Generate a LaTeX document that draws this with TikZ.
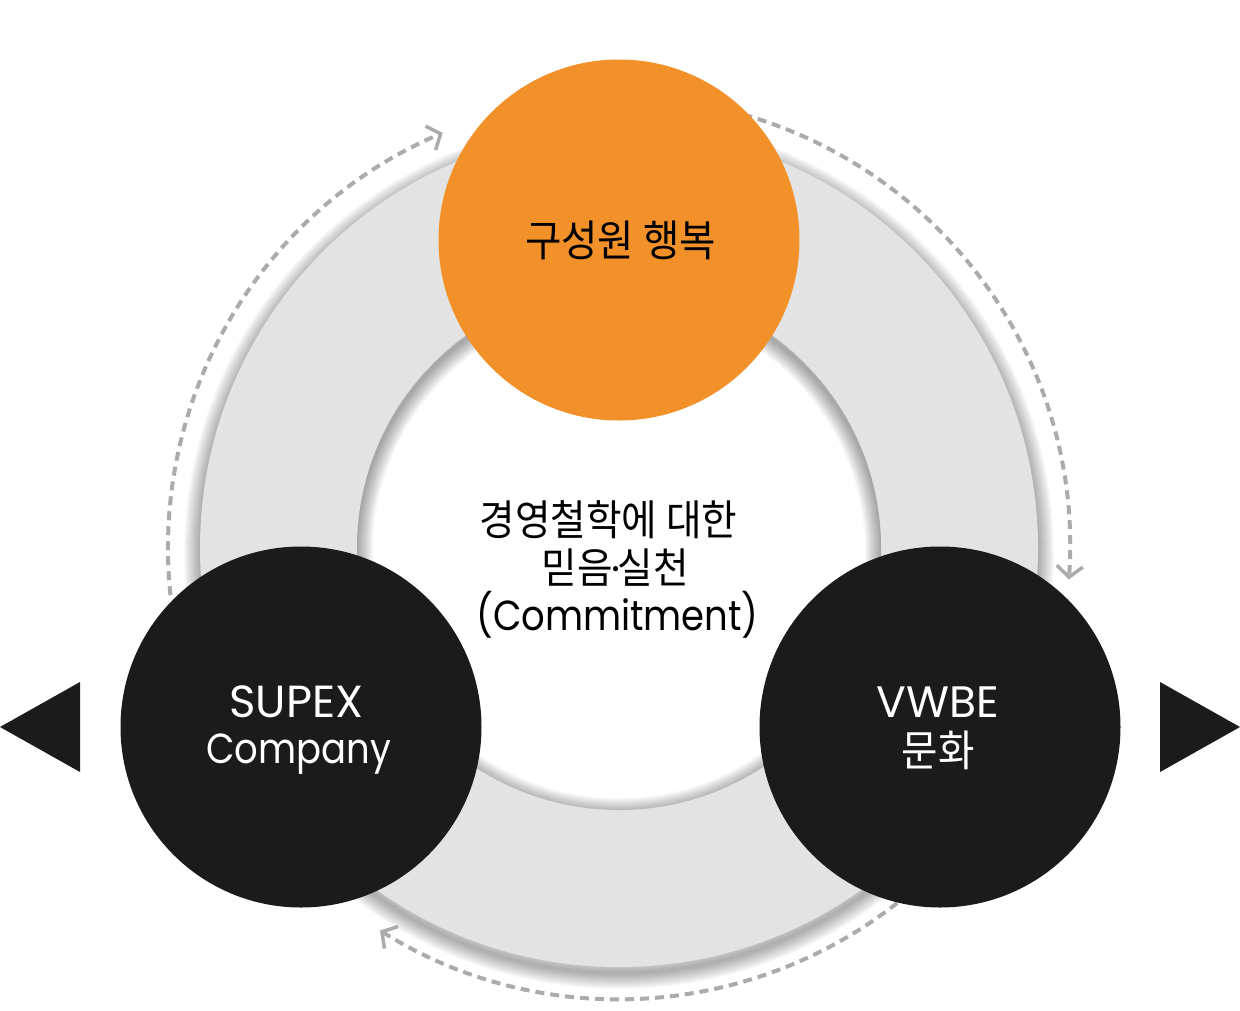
\documentclass[tikz,border=0pt]{standalone}
\usepackage{fontspec}
\setmainfont{Noto Sans CJK KR}[FakeStretch=0.92]
\newfontfamily\lat{Poppins}
\newfontfamily\latn{Poppins}[FakeStretch=0.88]
\usetikzlibrary{arrows.meta,calc}
\definecolor{sorange}{HTML}{F29129}
\definecolor{sdark}{HTML}{1B1B1B}
\definecolor{sring}{HTML}{E3E3E3}
\definecolor{sdash}{HTML}{ABABAB}
\tikzset{
  flow/.style={draw=sdash, line width=4pt, dash pattern=on 9pt off 6pt,
    -{Straight Barb[length=11pt,width=26pt,line width=3.5pt]}},
  bigdot/.style={circle, minimum size=361pt, inner sep=0pt},
  krtext/.style={font=\fontsize{43}{48}\selectfont, inner sep=0pt},
  latext/.style={font=\lat\fontsize{43}{48}\selectfont, inner sep=0pt},
  latnar/.style={font=\latn\fontsize{42}{48}\selectfont, inner sep=0pt},
}
\begin{document}
\begin{tikzpicture}[x=1pt,y=-1pt]
\useasboundingbox (0,0) rectangle (1240,1010);
\coordinate (c) at (619,548);
% outer drop shadow
\foreach \k in {1,...,16}
  \draw[black, opacity=0.025, line width=2*\k pt] ($(c)+(0,6)$) circle[radius=419];
% ring
\fill[sring] (c) circle[radius=419];
\fill[white] (c) circle[radius=262];
% inner shadow
\begin{scope}
  \clip (c) circle[radius=262];
  \foreach \k in {1,...,16}
    \draw[black, opacity=0.024, line width=2*\k pt] ($(c)+(0,4)$) circle[radius=262];
\end{scope}
% dashed cycle arrows
\coordinate (s1) at ($(c)+(-186:451)$);
\coordinate (s2) at ($(c)+(-74:451)$);
\coordinate (s3) at ($(c)+(50:451)$);
\draw[flow] (s1) arc[start angle=-186, end angle=-113, radius=451];
\draw[flow] (s2) arc[start angle=-74, end angle=4, radius=451];
\draw[flow] (s3) arc[start angle=50, end angle=122, radius=451];
% circles
\node[bigdot, fill=sorange] (hap) at (619,240) {};
\node[bigdot, fill=sdark] (sup) at (301,727) {};
\node[bigdot, fill=sdark] (vwb) at (940,727) {};
% triangles
\fill[sdark] (0,727) -- (80,682) -- (80,772) -- cycle;
\fill[sdark] (1240,727) -- (1160,682) -- (1160,772) -- cycle;
% texts
\node[krtext] (hapt) at (620.5,240) {구성원 행복};
\node[krtext, font=\fontsize{42}{46}\selectfont] (m1) at (608.5,520) {경영철학에 대한};
\node[krtext, font=\fontsize{42}{46}\selectfont] (m2) at (615.5,568) {믿음{\lat\kern-2pt·\kern-2pt}실천};
\node[latnar, anchor=base] (m3) at (617.5,630) {(Commitment)};
\node[latext, font=\lat\fontsize{45}{48}\selectfont, text=white, anchor=base] (sup1) at (296.5,717) {SUPEX};
\node[latnar, text=white, anchor=base] (sup2) at (298.5,763) {Company};
\node[latext, font=\lat\fontsize{44}{48}\selectfont, text=white, anchor=base] (vw1) at (938,717) {VWBE};
\node[krtext, text=white] (vw2) at (938,750) {문화};
\end{tikzpicture}
\end{document}
